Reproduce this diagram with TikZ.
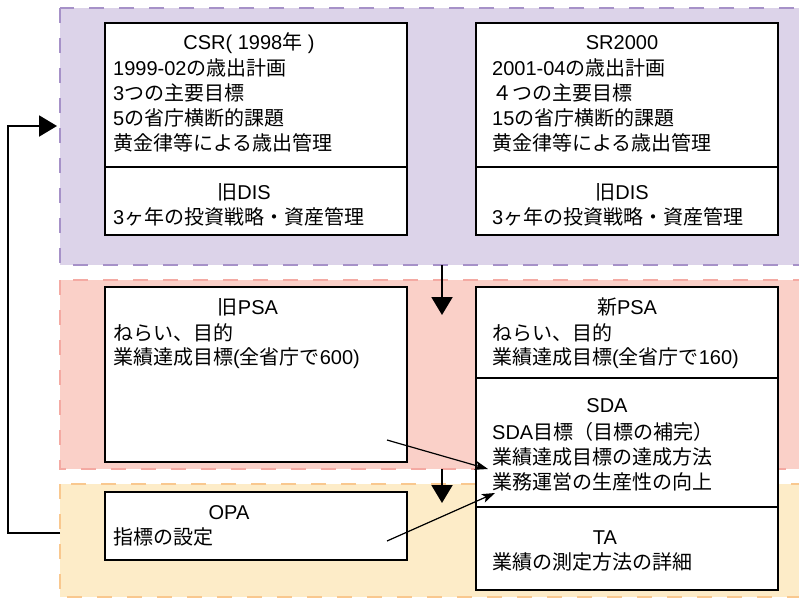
\documentclass[tikz,border=0pt]{standalone}
\usepackage{fontspec}
\setmainfont{Liberation Sans}
\newfontfamily\cjkfont{Noto Sans CJK JP}
\XeTeXinterchartokenstate=1
\newXeTeXintercharclass\cjkclass
\newcount\cjkcc
\def\cjkrange#1#2{\cjkcc=#1\relax
  \loop\XeTeXcharclass\cjkcc=\cjkclass\advance\cjkcc by 1\relax
  \ifnum\cjkcc<#2\repeat}
\cjkrange{"3000}{"3100}
\cjkrange{"4E00}{"A000}
\cjkrange{"FF00}{"FFF0}
\XeTeXinterchartoks 0 \cjkclass={\begingroup\cjkfont}
\XeTeXinterchartoks 4095 \cjkclass={\begingroup\cjkfont}
\XeTeXinterchartoks \cjkclass 0={\endgroup}
\XeTeXinterchartoks \cjkclass 4095={\endgroup}
\usetikzlibrary{arrows.meta}
\definecolor{purpfill}{RGB}{220,211,233}
\definecolor{purpdash}{RGB}{166,145,200}
\definecolor{redfill}{RGB}{250,208,200}
\definecolor{reddash}{RGB}{244,170,163}
\definecolor{orfill}{RGB}{253,236,200}
\definecolor{ordash}{RGB}{249,200,143}
\tikzset{
  region/.style={line width=2.5pt, dash pattern=on 15pt off 15pt},
  box/.style={draw=black, fill=white, line width=1.3pt, inner sep=0pt},
  divider/.style={draw=black, line width=1.3pt},
  title/.style={anchor=base, inner sep=0pt, font=\fontsize{20pt}{25pt}\selectfont},
  body/.style={anchor=base west, inner sep=0pt, font=\fontsize{20pt}{25pt}\selectfont},
  bigarrow/.style={line width=2pt, -{Triangle[length=18pt,width=21pt]}},
  thinarrow/.style={line width=1.2pt, -{Stealth[length=13pt,width=9pt,inset=3pt]}}
}
\begin{document}
\begin{tikzpicture}[x=1pt,y=-1pt]
\useasboundingbox (0,0) rectangle (799,598);
\clip (0,0) rectangle (799,598);
% regions
\draw[region, draw=purpdash, fill=purpfill] (60,8) rectangle (830,265);
\draw[region, draw=reddash, fill=redfill] (60,280) rectangle (830,469);
\draw[region, draw=ordash, fill=orfill] (60,484) rectangle (830,597);
% boxes
\node[box, minimum width=302pt, minimum height=212pt] (csr) at (256,129) {};
\draw[divider] (csr.west |- 0,167) -- (csr.east |- 0,167);
\node[box, minimum width=302pt, minimum height=212pt] (sr) at (627,129) {};
\draw[divider] (sr.west |- 0,167) -- (sr.east |- 0,167);
\node[box, minimum width=302pt, minimum height=175pt] (oldpsa) at (256,374.5) {};
\node[box, minimum width=302pt, minimum height=303pt] (newpsa) at (627,438.5) {};
\draw[divider] (newpsa.west |- 0,378) -- (newpsa.east |- 0,378);
\draw[divider] (newpsa.west |- 0,507) -- (newpsa.east |- 0,507);
\node[box, minimum width=302pt, minimum height=68pt] (opa) at (256,526) {};
% texts CSR
\node[title] (csrT) at (249,49) {CSR( 1998年 )};
\node[body] (csr1) at (113,75) {1999-02の歳出計画};
\node[body] (csr2) at (113,100.2) {3つの主要目標};
\node[body] (csr3) at (113,125.4) {5の省庁横断的課題};
\node[body] (csr4) at (113,150.6) {黄金律等による歳出管理};
\node[title] (disaT) at (244,199) {旧DIS};
\node[body] (disa1) at (113,224) {3ヶ年の投資戦略・資産管理};
% texts SR2000
\node[title] (srT) at (622,49) {SR2000};
\node[body] (sr1) at (492,75) {2001-04の歳出計画};
\node[body] (sr2) at (492,100.2) {４つの主要目標};
\node[body] (sr3) at (492,125.4) {15の省庁横断的課題};
\node[body] (sr4) at (492,150.6) {黄金律等による歳出管理};
\node[title] (disbT) at (622,199) {旧DIS};
\node[body] (disb1) at (492,224) {3ヶ年の投資戦略・資産管理};
% old PSA
\node[title] (opsaT) at (248,314) {旧PSA};
\node[body] (opsa1) at (113,340) {ねらい、目的};
\node[body] (opsa2) at (113,364) {業績達成目標(全省庁で600)};
% new PSA
\node[title] (npsaT) at (627,314) {新PSA};
\node[body] (npsa1) at (492,340) {ねらい、目的};
\node[body] (npsa2) at (492,364) {業績達成目標(全省庁で160)};
\node[title] (sdaT) at (607,412) {SDA};
\node[body] (sda1) at (492,439.5) {SDA目標（目標の補完）};
\node[body] (sda2) at (492,464.5) {業績達成目標の達成方法};
\node[body] (sda3) at (492,489.5) {業務運営の生産性の向上};
\node[title] (taT) at (605,544) {TA};
\node[body] (ta1) at (492,569) {業績の測定方法の詳細};
% OPA
\node[title] (opaT) at (229,519) {OPA};
\node[body] (opa1) at (113,544) {指標の設定};
% connector coordinates
\coordinate (purpS) at (442,265);
\coordinate (redN) at (442,315);
\coordinate (redS) at (442,469);
\coordinate (orN) at (442,503);
\coordinate (orW) at (60,533);
\coordinate (purpW) at (57,126);
\coordinate (a1s) at (387,440);
\coordinate (a1e) at (488,469);
\coordinate (a2s) at (387,541);
\coordinate (a2e) at (495,493);
% connectors
\draw[bigarrow] (purpS) -- (redN);
\draw[bigarrow] (redS) -- (orN);
\draw[bigarrow] (orW) -- (8,533) -- (8,126) -- (purpW);
\draw[thinarrow] (a1s) -- (a1e);
\draw[thinarrow] (a2s) -- (a2e);
\end{tikzpicture}
\end{document}
